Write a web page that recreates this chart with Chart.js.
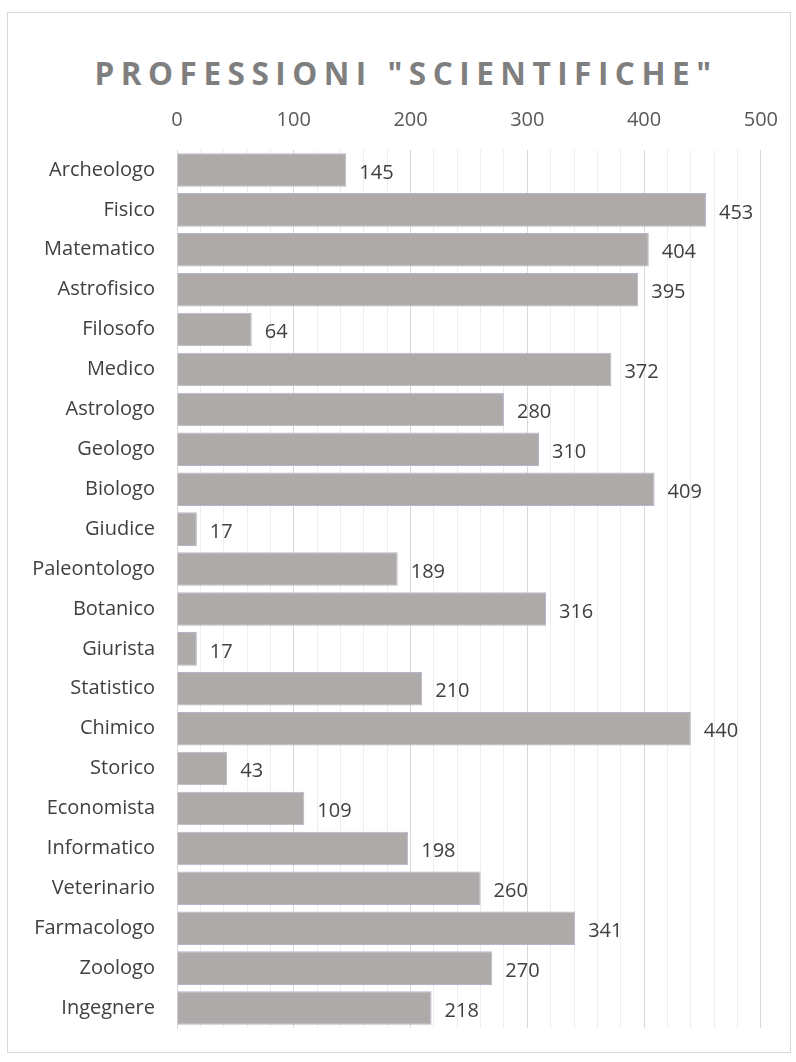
<!DOCTYPE html>
<html>
<head>
<meta charset="utf-8">
<script src="https://cdn.jsdelivr.net/npm/chart.js@4/dist/chart.umd.min.js"></script>
<style>
  body { margin: 0; background: #fff; }
  #wrap { position: relative; width: 796px; height: 1062px; }
  #frame { position: absolute; left: 7px; top: 12px; width: 782px; height: 1039px; border: 1px solid #d9d9d9; }
  #title { position: absolute; left: 0; top: 51px; width: 796px; text-align: center; margin: 0;
           padding-left: 16px; box-sizing: border-box;
           font: bold 31.5px "Open Sans", sans-serif; letter-spacing: 6.5px; color: #7f7f7f; }
  canvas { position: absolute; left: 0; top: 0; }
</style>
</head>
<body>
<div id="wrap">
  <div id="frame"></div>
  <h1 id="title">PROFESSIONI "SCIENTIFICHE"</h1>
  <canvas id="chart" width="796" height="1062"></canvas>
</div>
<script>
// dati
const professioni = ['Archeologo', 'Fisico', 'Matematico', 'Astrofisico', 'Filosofo', 'Medico',
    'Astrologo', 'Geologo', 'Biologo', 'Giudice', 'Paleontologo', 'Botanico', 'Giurista',
    'Statistico', 'Chimico', 'Storico', 'Economista', 'Informatico', 'Veterinario',
    'Farmacologo', 'Zoologo', 'Ingegnere'];
const conteggi = [145, 453, 404, 395, 64, 372, 280, 310, 409, 17, 189, 316, 17,
    210, 440, 43, 109, 198, 260, 341, 270, 218];
const assePassi = [0, 100, 200, 300, 400, 500];

const FONT = '"Open Sans", sans-serif';

// etichette dei valori a destra delle barre
const valueLabels = {
    id: 'valueLabels',
    afterDatasetsDraw(chart) {
        const ctx = chart.ctx;
        const meta = chart.getDatasetMeta(0);
        ctx.save();
        ctx.font = '20px ' + FONT;
        ctx.fillStyle = '#404040';
        ctx.textAlign = 'left';
        ctx.textBaseline = 'middle';
        meta.data.forEach((bar, i) => {
            ctx.fillText(String(conteggi[i]), bar.x + 13, bar.y + 3);
        });
        ctx.restore();
    }
};

const ctx = document.getElementById('chart').getContext('2d');
new Chart(ctx, {
    type: 'bar',
    data: {
        labels: professioni,
        datasets: [{
            data: conteggi,
            backgroundColor: '#aeaaaa',
            borderColor: '#b3b5c9',
            borderWidth: 1,
            barPercentage: 0.84,
            categoryPercentage: 1
        }]
    },
    options: {
        indexAxis: 'y',
        responsive: false,
        animation: false,
        layout: { padding: { left: 0, top: 100, right: 34, bottom: 21 } },
        plugins: {
            legend: { display: false },
            tooltip: { enabled: false }
        },
        scales: {
            x: {
                position: 'top',
                min: 0,
                max: 500,
                afterFit: (scale) => { scale.height = 50; },
                ticks: {
                    stepSize: 20,
                    autoSkip: false,
                    maxRotation: 0,
                    padding: 18,
                    color: '#595959',
                    font: { family: FONT, size: 20 },
                    callback: (v) => assePassi.includes(v) ? String(v) : ''
                },
                grid: {
                    drawTicks: false,
                    color: (c) => (c.tick && c.tick.value % 100 === 0) ? '#d9d9d9' : '#eeeeee'
                },
                border: { display: false }
            },
            y: {
                afterFit: (scale) => { scale.width = 177; },
                ticks: {
                    padding: 22,
                    color: '#404040',
                    font: { family: FONT, size: 20 }
                },
                grid: { display: false, drawTicks: false },
                border: { display: true, color: '#d9d9d9' }
            }
        }
    },
    plugins: [valueLabels]
});
</script>
</body>
</html>
